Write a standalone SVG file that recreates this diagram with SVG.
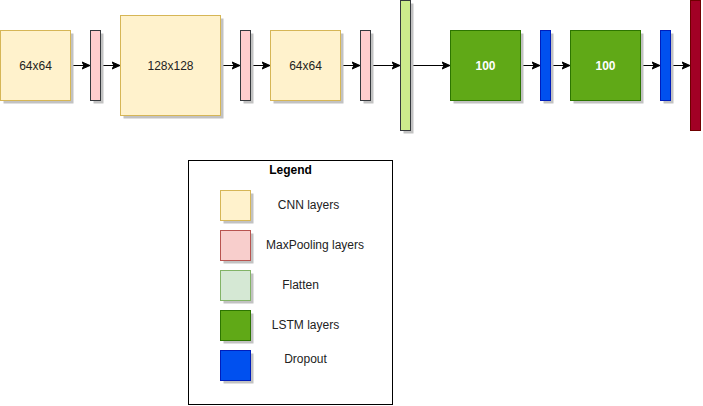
<svg xmlns="http://www.w3.org/2000/svg" width="703" height="406" viewBox="0 0 703 406">
<style>
text{font-family:"Liberation Sans",Arial,sans-serif;font-size:12px;fill:#222;text-anchor:middle;dominant-baseline:central}
.sh{fill:#c2c2c2;stroke:none}
.cnn{fill:#fff2cc;stroke:#d6b656}
.pool{fill:#ffcccc;stroke:#36393d}
.poolL{fill:#f8cecc;stroke:#b85450}
.flat{fill:#cdeb8b;stroke:#36393d}
.flatL{fill:#d5e8d4;stroke:#82b366}
.lstm{fill:#60a917;stroke:#2d7600}
.drop{fill:#0050ef;stroke:#001dbc}
.out{fill:#a20025;stroke:#6f0000}
.w{fill:#ffffff;font-weight:bold}
.edge{stroke:#000;stroke-width:1;fill:none;marker-end:url(#arr)}
</style>
<defs>
<marker id="arr" markerUnits="userSpaceOnUse" markerWidth="9" markerHeight="9" viewBox="0 0 9 9" refX="8.5" refY="4.5" orient="auto">
<path d="M0.5,1 L8.5,4.5 L0.5,8 L2.5,4.5 Z" fill="#000" stroke="#000" stroke-width="1"/>
</marker>
</defs>
<g id="connectors">
<line class="edge" x1="70.5" y1="65.5" x2="90" y2="65.5"/>
<line class="edge" x1="100.5" y1="65.5" x2="120" y2="65.5"/>
<line class="edge" x1="220.5" y1="65.5" x2="240" y2="65.5"/>
<line class="edge" x1="250.5" y1="65.5" x2="270" y2="65.5"/>
<line class="edge" x1="340.5" y1="65.5" x2="360" y2="65.5"/>
<line class="edge" x1="370.5" y1="65.5" x2="400" y2="65.5"/>
<line class="edge" x1="410.5" y1="65.5" x2="450" y2="65.5"/>
<line class="edge" x1="520.5" y1="65.5" x2="540" y2="65.5"/>
<line class="edge" x1="550.5" y1="65.5" x2="570" y2="65.5"/>
<line class="edge" x1="640.5" y1="65.5" x2="660" y2="65.5"/>
<line class="edge" x1="670.5" y1="65.5" x2="690" y2="65.5"/>
</g>
<g id="cnn1"><rect class="sh" x="3.5" y="33.5" width="70" height="70"/><rect class="cnn" x="0.5" y="30.5" width="70" height="70"/><text x="35.5" y="65.5">64x64</text></g>
<g id="pool1"><rect class="sh" x="93.5" y="33.5" width="10" height="70"/><rect class="pool" x="90.5" y="30.5" width="10" height="70"/></g>
<g id="cnn2"><rect class="sh" x="123.5" y="18.5" width="100" height="100"/><rect class="cnn" x="120.5" y="15.5" width="100" height="100"/><text x="170.5" y="65.5">128x128</text></g>
<g id="pool2"><rect class="sh" x="243.5" y="33.5" width="10" height="70"/><rect class="pool" x="240.5" y="30.5" width="10" height="70"/></g>
<g id="cnn3"><rect class="sh" x="273.5" y="33.5" width="70" height="70"/><rect class="cnn" x="270.5" y="30.5" width="70" height="70"/><text x="305.5" y="65.5">64x64</text></g>
<g id="pool3"><rect class="sh" x="363.5" y="33.5" width="10" height="70"/><rect class="pool" x="360.5" y="30.5" width="10" height="70"/></g>
<g id="flatten"><rect class="sh" x="403.5" y="3.5" width="10" height="130"/><rect class="flat" x="400.5" y="0.5" width="10" height="130"/></g>
<g id="lstm1"><rect class="sh" x="453.5" y="33.5" width="70" height="70"/><rect class="lstm" x="450.5" y="30.5" width="70" height="70"/><text class="w" x="485.5" y="65.5">100</text></g>
<g id="drop1"><rect class="sh" x="543.5" y="33.5" width="10" height="70"/><rect class="drop" x="540.5" y="30.5" width="10" height="70"/></g>
<g id="lstm2"><rect class="sh" x="573.5" y="33.5" width="70" height="70"/><rect class="lstm" x="570.5" y="30.5" width="70" height="70"/><text class="w" x="605.5" y="65.5">100</text></g>
<g id="drop2"><rect class="sh" x="663.5" y="33.5" width="10" height="70"/><rect class="drop" x="660.5" y="30.5" width="10" height="70"/></g>
<g id="output"><rect class="out" x="690.5" y="0.5" width="10" height="130"/></g>
<g id="legend">
<rect x="188.5" y="160.5" width="204" height="244" fill="#fff" stroke="#000"/>
<text x="290.5" y="170" style="font-weight:bold;fill:#000">Legend</text>
<rect class="sh" x="223.5" y="193.5" width="30" height="30"/><rect class="cnn" x="220.5" y="190.5" width="30" height="30"/>
<text x="308.5" y="205">CNN layers</text>
<rect class="sh" x="223.5" y="233.5" width="30" height="30"/><rect class="poolL" x="220.5" y="230.5" width="30" height="30"/>
<text x="315" y="245">MaxPooling layers</text>
<rect class="sh" x="223.5" y="273.5" width="30" height="30"/><rect class="flatL" x="220.5" y="270.5" width="30" height="30"/>
<text x="300.5" y="285">Flatten</text>
<rect class="sh" x="223.5" y="313.5" width="30" height="30"/><rect class="lstm" x="220.5" y="310.5" width="30" height="30"/>
<text x="305.5" y="325">LSTM layers</text>
<rect class="sh" x="223.5" y="353.5" width="30" height="30"/><rect class="drop" x="220.5" y="350.5" width="30" height="30"/>
<text x="305.5" y="359">Dropout</text>
</g>
</svg>
